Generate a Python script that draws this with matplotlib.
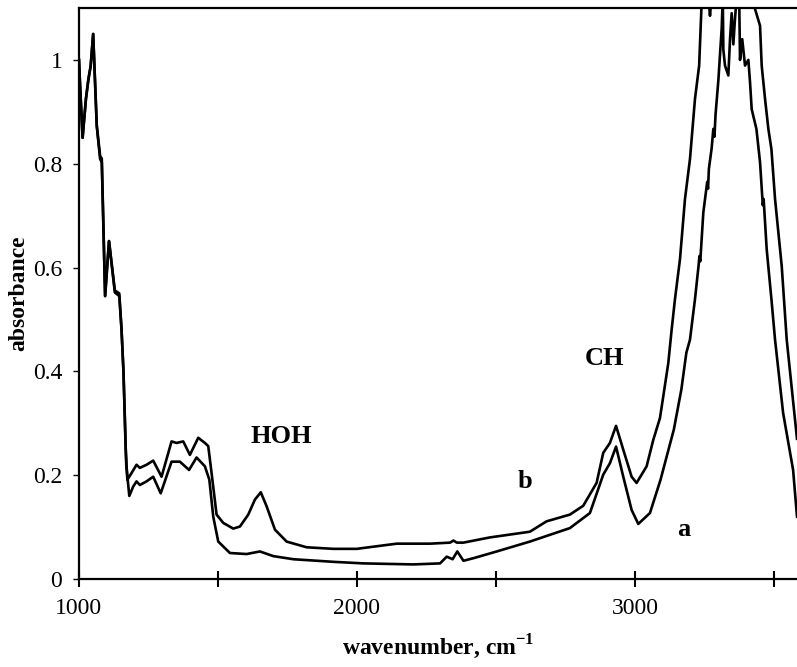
import matplotlib.pyplot as plt
from matplotlib.ticker import FormatStrFormatter


OUTPUT_PATH = 'out.png'

# curve b (upper trace, with the HOH band)
B_WAVENUMBER = [
    1000, 1004, 1013, 1025, 1034, 1042, 1051, 1064, 1076, 1082, 1094, 1108,
    1129, 1145, 1153, 1160, 1168, 1174, 1189, 1207, 1219, 1243, 1267, 1297,
    1333, 1351, 1375, 1399, 1429, 1453, 1465, 1477, 1495, 1519, 1555, 1579,
    1609, 1633, 1654, 1675, 1705, 1747, 1819, 1915, 1999, 2143, 2263, 2335,
    2347, 2359, 2383, 2478, 2622, 2682, 2766, 2814, 2862, 2886, 2910, 2932,
    2958, 2988, 3006, 3042, 3066, 3090, 3102, 3120, 3132, 3144, 3162, 3180,
    3198, 3216, 3231, 3239, 3262, 3270, 3278, 3330, 3390, 3432, 3450, 3456,
    3468, 3480, 3491, 3504, 3528, 3546, 3583,
]
B_ABSORBANCE = [
    1.00, 0.95, 0.85, 0.925, 0.963, 0.988, 1.05, 0.873, 0.815, 0.810, 0.545, 0.651,
    0.552, 0.545, 0.481, 0.40, 0.25, 0.191, 0.204, 0.220, 0.214, 0.220, 0.228, 0.197,
    0.265, 0.262, 0.265, 0.239, 0.272, 0.262, 0.256, 0.204, 0.124, 0.108, 0.097, 0.101,
    0.124, 0.153, 0.167, 0.140, 0.095, 0.072, 0.061, 0.058, 0.058, 0.068, 0.068, 0.070,
    0.074, 0.070, 0.070, 0.080, 0.091, 0.111, 0.124, 0.141, 0.185, 0.243, 0.262, 0.295,
    0.249, 0.197, 0.185, 0.217, 0.268, 0.310, 0.352, 0.416, 0.480, 0.539, 0.616, 0.732,
    0.809, 0.925, 0.989, 1.098, 1.14, 1.085, 1.14, 1.25, 1.20, 1.098, 1.066, 0.989,
    0.925, 0.867, 0.828, 0.732, 0.603, 0.461, 0.27,
]

# curve a (lower trace, noisy OH band)
A_WAVENUMBER = [
    1000, 1004, 1013, 1025, 1034, 1042, 1051, 1064, 1076, 1082, 1094, 1108,
    1129, 1145, 1153, 1160, 1170, 1181, 1195, 1207, 1219, 1243, 1267, 1294,
    1333, 1363, 1396, 1423, 1453, 1469, 1483, 1501, 1543, 1603, 1651, 1699,
    1771, 1915, 2023, 2203, 2299, 2323, 2344, 2361, 2383, 2419, 2503, 2622,
    2766, 2838, 2886, 2910, 2932, 2958, 2988, 3012, 3054, 3092, 3140, 3167,
    3185, 3198, 3216, 3229, 3232, 3235, 3246, 3260, 3263, 3266, 3276, 3282,
    3286, 3290, 3300, 3312, 3316, 3318, 3324, 3336, 3342, 3348, 3354, 3360,
    3366, 3375, 3378, 3386, 3396, 3408, 3414, 3420, 3437, 3450, 3460, 3463,
    3474, 3491, 3504, 3533, 3569, 3583,
]
A_ABSORBANCE = [
    1.00, 0.95, 0.85, 0.925, 0.963, 0.988, 1.05, 0.873, 0.809, 0.803, 0.545, 0.651,
    0.556, 0.550, 0.481, 0.40, 0.22, 0.160, 0.178, 0.188, 0.181, 0.188, 0.197, 0.165,
    0.226, 0.226, 0.210, 0.234, 0.217, 0.191, 0.120, 0.072, 0.050, 0.048, 0.053, 0.044,
    0.038, 0.033, 0.030, 0.028, 0.030, 0.043, 0.038, 0.053, 0.035, 0.040, 0.053, 0.072,
    0.098, 0.127, 0.201, 0.223, 0.255, 0.197, 0.133, 0.106, 0.127, 0.191, 0.288, 0.365,
    0.436, 0.461, 0.539, 0.604, 0.622, 0.612, 0.706, 0.765, 0.752, 0.790, 0.830, 0.867,
    0.852, 0.895, 0.960, 1.06, 1.12, 1.02, 0.989, 0.970, 1.04, 1.09, 1.03, 1.08,
    1.12, 1.12, 1.00, 1.04, 0.989, 1.00, 0.957, 0.905, 0.867, 0.803, 0.720, 0.732,
    0.635, 0.539, 0.461, 0.320, 0.210, 0.12,
]

X_TICKS = [1000, 1500, 2000, 2500, 3000, 3500]
X_TICK_LABELS = ['1000', '', '2000', '', '3000', '']
Y_TICKS = [0, 0.2, 0.4, 0.6, 0.8, 1.0]

ANNOTATIONS = [
    ('HOH', 1727, 0.275),
    ('CH', 2892, 0.425),
    ('b', 2604, 0.188),
    ('a', 3176, 0.095),
]


def build_plot(output_path=OUTPUT_PATH):
    plt.rcParams['font.family'] = 'Liberation Serif'
    plt.rcParams['mathtext.fontset'] = 'custom'
    plt.rcParams['mathtext.rm'] = 'Liberation Serif'
    plt.rcParams['mathtext.bf'] = 'Liberation Serif:bold'

    fig = plt.figure(figsize=(7.97, 6.67), dpi=100)
    ax = fig.add_axes([0.0991, 0.132, 0.9009, 0.856])

    ax.plot(B_WAVENUMBER, B_ABSORBANCE, color='black', linewidth=1.9)
    ax.plot(A_WAVENUMBER, A_ABSORBANCE, color='black', linewidth=1.9)

    ax.set_xlim(1000, 3583)
    ax.set_ylim(0, 1.1)

    ax.set_xticks(X_TICKS)
    ax.set_xticklabels(X_TICK_LABELS)
    ax.set_yticks(Y_TICKS)
    ax.yaxis.set_major_formatter(FormatStrFormatter('%g'))
    ax.tick_params(axis='x', direction='inout', length=11, width=1.5,
                   labelsize=17, pad=8)
    ax.tick_params(axis='y', direction='out', length=4, width=1.0,
                   labelsize=17, pad=8)

    for side in ('left', 'bottom', 'top'):
        ax.spines[side].set_linewidth(1.6)
    ax.spines['right'].set_visible(False)

    ax.set_xlabel('wavenumber, cm$^{\\mathbf{-1}}$', fontsize=17,
                  fontweight='bold', labelpad=10)
    ax.set_ylabel('absorbance', fontsize=17, fontweight='bold')
    ax.yaxis.set_label_coords(-0.069, 0.5)

    for text, x, y in ANNOTATIONS:
        ax.text(x, y, text, fontsize=19, fontweight='bold',
                ha='center', va='center')

    fig.savefig(output_path, dpi=100)
    return fig, ax


if __name__ == '__main__':
    build_plot()
